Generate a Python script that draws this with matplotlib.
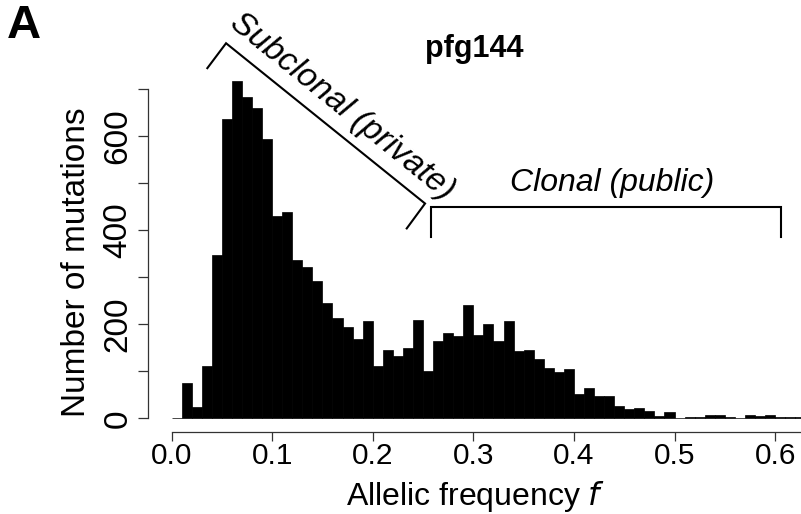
import numpy as np
import matplotlib
matplotlib.use("Agg")
import matplotlib.pyplot as plt

plt.rcParams['font.family'] = ['Liberation Sans', 'DejaVu Sans']

# histogram: bin width 0.01, starting at 0.0
bin_width = 0.01
counts = [1, 76, 23, 112, 347, 636, 718, 683, 661, 594,
          431, 440, 336, 321, 292, 245, 213, 194, 168, 208,
          111, 146, 133, 150, 209, 101, 164, 182, 175, 242,
          177, 201, 164, 206, 143, 146, 127, 106, 98, 105,
          52, 65, 47, 47, 27, 20, 21, 15, 5, 13,
          1, 3, 3, 6, 8, 3, 1, 6, 5, 7,
          3, 3, 3]
left_edges = np.arange(len(counts)) * bin_width

x_ticks = [0.0, 0.1, 0.2, 0.3, 0.4, 0.5, 0.6]
x_tick_labels = ["0.0", "0.1", "0.2", "0.3", "0.4", "0.5", "0.6"]
y_ticks = [0, 100, 200, 300, 400, 500, 600, 700]
y_tick_labels = ["0", "", "200", "", "400", "", "600", ""]

title = "pfg144"
panel = "A"

# bracket annotations (data coordinates)
sub_bracket_x = [0.0356, 0.0542, 0.2520, 0.2338]
sub_bracket_y = [745, 798, 457, 404]
clon_bracket_x = [0.2575, 0.2575, 0.606, 0.606]
clon_bracket_y = [385, 449, 449, 385]

fig = plt.figure(figsize=(8.01, 5.14), dpi=100)
ax = fig.add_axes([0, 0, 1, 1])
ax.set_xlim(-0.1705, 0.6257)
ax.set_ylim(-203.6, 890)

ax.bar(left_edges, counts, width=bin_width, align='edge',
       color='black', edgecolor='black', linewidth=0.5)

for s in ['top', 'right']:
    ax.spines[s].set_visible(False)
ax.spines['left'].set_position(('data', -0.0234))
ax.spines['left'].set_bounds(0, 700)
ax.spines['bottom'].set_position(('data', -29.8))
ax.spines['bottom'].set_bounds(0, 0.63)
for s in ['left', 'bottom']:
    ax.spines[s].set_linewidth(0.9)
    ax.spines[s].set_color('#333333')

ax.set_xticks(x_ticks)
ax.set_xticklabels(x_tick_labels, fontsize=21.5)
ax.tick_params(axis='x', direction='out', length=6.5, width=0.9, pad=0.5, color='#333333')
ax.set_yticks(y_ticks)
ax.set_yticklabels(y_tick_labels, fontsize=24, rotation=90, va='center')
ax.tick_params(axis='y', direction='out', length=7, width=0.9, pad=3.5, color='#333333')

ax.text(0.3027, -184.5, "Allelic frequency $\\it{f}$", fontsize=23,
        ha='center', va='baseline')
ax.text(-0.086, 333, "Number of mutations", fontsize=24, rotation=90,
        rotation_mode='anchor', ha='center', va='baseline')
ax.text(0.3007, 785, title, fontsize=22, fontweight='bold',
        ha='center', va='center')
ax.text(-0.1467, 835, panel, fontsize=34, fontweight='bold',
        ha='center', va='center')

ax.plot(sub_bracket_x, sub_bracket_y, color='black', lw=1.5,
        solid_joinstyle='miter', clip_on=False)
ax.plot(clon_bracket_x, clon_bracket_y, color='black', lw=1.5,
        solid_joinstyle='miter', clip_on=False)
ax.text(0.1692, 663, "Subclonal (private)", fontsize=24, style='italic',
        rotation=-39, rotation_mode='anchor', ha='center', va='center')
ax.text(0.438, 500, "Clonal (public)", fontsize=23, style='italic',
        ha='center', va='center')

fig.savefig("out.png", dpi=100)
